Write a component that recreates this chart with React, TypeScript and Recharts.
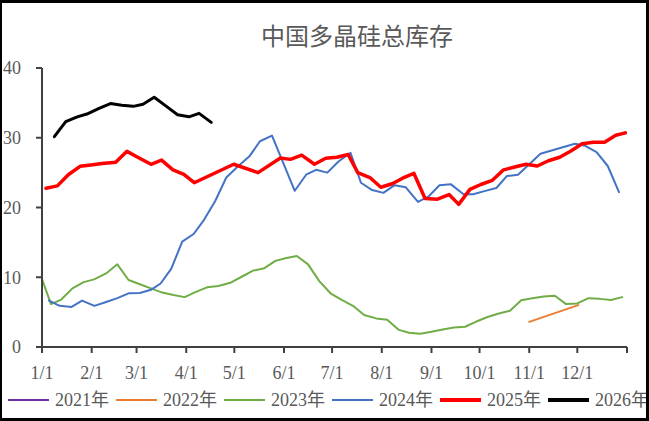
import React from 'react';
import { LineChart, Line, XAxis, YAxis } from 'recharts';

// x positions are day-of-year (0 = Jan 1)
const monthTicks = [0, 31, 59, 90, 120, 151, 181, 212, 243, 273, 304, 334, 365];
const monthLabels = ['1/1', '2/1', '3/1', '4/1', '5/1', '6/1', '7/1', '8/1', '9/1', '10/1', '11/1', '12/1', ''];
const yTicks = [0, 10, 20, 30, 40];

const seriesNames = ['2021年', '2022年', '2023年', '2024年', '2025年', '2026年'];

const s2021: [number, number][] = [];

const s2022: [number, number][] = [
  [304, 3.6], [334.6, 6.0],
];

const s2023: [number, number][] = [
  [0, 9.75], [5.6, 6.15], [12, 6.8], [19, 8.4], [26, 9.3], [32.5, 9.7], [40, 10.55], [47, 11.85],
  [54, 9.6], [61, 9.0], [68, 8.4], [75, 7.8], [82, 7.45], [89, 7.15], [96, 7.9], [103, 8.55],
  [110, 8.75], [117.5, 9.2], [124, 10.0], [131.7, 10.95], [138.75, 11.3], [145.6, 12.35],
  [152.5, 12.75], [159, 13.05], [166, 11.85], [173, 9.45], [180, 7.7], [187, 6.75], [194, 5.9],
  [201, 4.6], [208.5, 4.1], [215.4, 3.9], [222.7, 2.45], [229, 2.05], [236, 1.9], [243, 2.2],
  [250, 2.5], [257, 2.8], [264, 2.9], [271, 3.65], [278, 4.3], [285, 4.8], [292, 5.2], [299, 6.7],
  [306, 7.0], [313, 7.25], [320, 7.35], [327, 6.15], [334, 6.25], [341, 7.0], [348, 6.9],
  [355, 6.75], [362, 7.15],
];

const s2024: [number, number][] = [
  [4.4, 6.65], [11, 5.9], [18.5, 5.75], [25, 6.65], [32.7, 5.9], [40, 6.45], [47, 7.0], [54, 7.7],
  [61, 7.75], [68, 8.2], [74, 9.1], [80.6, 11.2], [87.5, 15.1], [94.6, 16.2], [101, 18.2],
  [108, 20.9], [115, 24.3], [122, 25.85], [129.6, 27.4], [136, 29.5], [143.5, 30.3],
  [157.7, 22.4], [164.8, 24.7], [171, 25.4], [178, 25.0], [185, 26.6], [192.5, 27.85],
  [199, 23.55], [206, 22.5], [213, 22.1], [220, 23.2], [227, 22.9], [234.6, 20.8], [241, 21.55],
  [248, 23.2], [255, 23.35], [263, 21.9], [269, 21.9], [276, 22.35], [283.5, 22.8], [290, 24.5],
  [297, 24.7], [304, 26.2], [311, 27.7], [318.5, 28.2], [326, 28.7], [332.5, 29.15], [339, 28.85],
  [346, 27.95], [353, 25.95], [360, 22.2],
];

const s2025: [number, number][] = [
  [2.5, 22.75], [9.6, 23.1], [16.4, 24.7], [23.75, 25.9], [30.5, 26.1], [37.5, 26.3], [46, 26.5],
  [53, 28.05], [60.6, 27.1], [68, 26.2], [74.6, 26.8], [81.7, 25.4], [88.5, 24.75], [95, 23.55],
  [119.6, 26.2], [134.8, 25.0], [148.75, 27.1], [155, 26.9], [162, 27.5], [170, 26.2],
  [177, 27.05], [184, 27.2], [191, 27.6], [197, 25.0], [204.6, 24.3], [211.4, 22.9], [218.5, 23.4],
  [225, 24.2], [232, 24.9], [239, 21.3], [246.7, 21.2], [254, 21.85], [260, 20.45], [267, 22.6],
  [273.75, 23.3], [281, 23.9], [288, 25.4], [295, 25.8], [302, 26.2], [309, 25.95], [316, 26.7],
  [323, 27.2], [330, 28.1], [337, 29.15], [344, 29.35], [351, 29.35], [358, 30.35], [364, 30.7],
];

const s2026: [number, number][] = [
  [7.7, 30.15], [14.8, 32.3], [22, 33.0], [28, 33.4], [35.6, 34.2], [42.7, 34.9], [49.8, 34.65],
  [57, 34.5], [63, 34.8], [70, 35.8], [77, 34.6], [84.6, 33.3], [91.7, 33.0], [98, 33.5],
  [105.6, 32.2],
];

const toRows = (s: [number, number][]) => s.map(([d, v]) => ({ d, v }));

const seriesList = [
  { name: seriesNames[0], data: s2021, color: '#7030A0', width: 2 },
  { name: seriesNames[1], data: s2022, color: '#ED7D31', width: 2 },
  { name: seriesNames[2], data: s2023, color: '#70AD47', width: 2 },
  { name: seriesNames[3], data: s2024, color: '#4472C4', width: 2 },
  { name: seriesNames[4], data: s2025, color: '#FF0000', width: 3.5 },
  { name: seriesNames[5], data: s2026, color: '#000000', width: 3 },
];

const serif = '"Liberation Serif", "Noto Sans CJK SC", serif';
const axisColor = '#404040';
const textColor = '#595959';

export default function App() {
  return (
    <div
      style={{
        position: 'fixed',
        left: 0,
        top: 0,
        width: 649,
        height: 421,
        background: '#fff',
        overflow: 'hidden',
      }}
    >
      <LineChart width={649} height={421} margin={{ top: 68, right: 22, bottom: 44, left: 0 }}>
        <XAxis
          type="number"
          dataKey="d"
          domain={[0, 365]}
          ticks={monthTicks}
          interval={0}
          allowDataOverflow
          tickFormatter={(t: number) => monthLabels[monthTicks.indexOf(t)] ?? ''}
          height={30}
          tickSize={6}
          tickMargin={13}
          axisLine={{ stroke: axisColor, strokeWidth: 2 }}
          tickLine={{ stroke: axisColor, strokeWidth: 2 }}
          tick={{ fill: textColor, fontSize: 18, fontFamily: serif }}
        />
        <YAxis
          type="number"
          domain={[0, 40]}
          ticks={yTicks}
          interval={0}
          width={42}
          tickSize={6}
          tickMargin={15}
          axisLine={{ stroke: axisColor, strokeWidth: 2 }}
          tickLine={{ stroke: axisColor, strokeWidth: 2 }}
          tick={{ fill: textColor, fontSize: 18, fontFamily: serif }}
        />
        {seriesList.map((s) => (
          <Line
            key={s.name}
            data={toRows(s.data)}
            dataKey="v"
            name={s.name}
            type="linear"
            stroke={s.color}
            strokeWidth={s.width}
            strokeLinejoin="round"
            strokeLinecap="round"
            dot={false}
            activeDot={false}
            isAnimationActive={false}
          />
        ))}
      </LineChart>

      <div
        style={{
          position: 'absolute',
          left: 0,
          width: 714,
          top: 20,
          textAlign: 'center',
          fontFamily: '"Noto Sans CJK SC", sans-serif',
          fontSize: 24,
          lineHeight: '30px',
          color: textColor,
        }}
      >
        中国多晶硅总库存
      </div>

      {seriesList.map((s, i) => (
        <div
          key={s.name}
          style={{
            position: 'absolute',
            left: 8 + i * 108,
            top: 388,
            height: 24,
            display: 'flex',
            alignItems: 'center',
            whiteSpace: 'nowrap',
          }}
        >
          <div style={{ width: 41, height: s.width >= 3 ? 3.5 : 2.5, background: s.color }} />
          <span
            style={{
              marginLeft: 6,
              fontFamily: serif,
              fontSize: 18,
              color: textColor,
              lineHeight: '24px',
            }}
          >
            {s.name}
          </span>
        </div>
      ))}

      <div
        style={{
          position: 'absolute',
          left: 0,
          top: 0,
          width: 649,
          height: 421,
          boxSizing: 'border-box',
          borderTop: '3px solid #000',
          borderRight: '3px solid #000',
          borderBottom: '3px solid #000',
          borderLeft: '2px solid #000',
          pointerEvents: 'none',
        }}
      />
    </div>
  );
}
